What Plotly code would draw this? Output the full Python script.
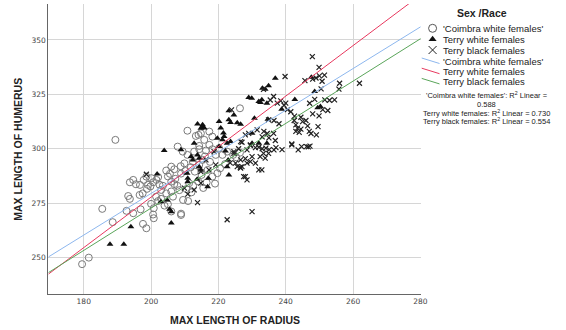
import plotly.graph_objects as go

# ---------------- data ----------------
coimbra_radius = [179.5, 181.5, 185.5, 188.6, 189.4, 192.7, 193.2, 193.7, 193.7, 194.7, 195.5, 194.7, 196.6, 196.9,
                  197.8, 197.6, 198.6, 198.8, 199.8, 200.0, 200.6, 200.8, 200.8, 201.6, 202.1, 202.1, 203.0, 204.0,
                  204.5, 205.0, 206.0, 206.0, 206.0, 206.0, 206.9, 206.9, 207.9, 208.4, 208.9, 208.9, 209.9, 210.2,
                  210.8, 210.8, 211.3, 211.8, 212.8, 213.3, 214.1, 209.4, 212.4, 215.3, 214.3, 205.6, 207.2, 208.8,
                  196.7, 200.1, 201.5, 203.0, 204.5, 206.5, 207.8, 200.6, 208.9, 210.5, 212.5, 214.0, 215.5, 214.8,
                  217.3, 215.8, 218.2, 214.3, 217.3, 216.3, 218.2, 220.2, 219.2, 221.2, 222.6, 224.4, 225.3, 226.4,
                  226.4, 214.3, 216.8, 218.2, 219.7, 215.0, 213.0, 216.5, 211.0, 203.5, 205.0, 197.5, 202.5, 209.5,
                  212.0, 217.5, 219.0, 222.0, 220.5, 216.0, 199.1, 198.6]
coimbra_humerus = [247.0, 250.0, 272.4, 266.3, 304.1, 271.5, 278.3, 277.0, 284.6, 285.7, 283.7, 270.4, 278.8, 272.2,
                   285.7, 265.5, 263.5, 281.6, 282.7, 274.7, 284.6, 268.1, 272.7, 285.7, 287.0, 276.0, 281.1, 273.9,
                   290.0, 287.3, 291.8, 284.9, 280.4, 271.2, 290.6, 283.8, 301.0, 281.0, 288.6, 269.6, 293.3, 289.8,
                   308.3, 297.2, 284.2, 291.5, 298.7, 305.9, 306.4, 298.7, 294.1, 294.9, 299.8, 288.5, 286.2, 292.0,
                   283.4, 286.5, 278.0, 277.0, 279.5, 278.0, 283.0, 269.8, 270.2, 281.5, 283.0, 285.0, 282.0, 307.1,
                   307.9, 304.1, 305.6, 301.3, 301.8, 299.2, 299.8, 300.3, 297.2, 297.2, 298.7, 297.2, 296.1, 298.2,
                   318.6, 292.6, 290.3, 287.2, 288.8, 288.0, 289.5, 284.5, 276.0, 283.0, 274.5, 279.5, 283.5, 276.5,
                   280.0, 294.0, 284.0, 293.0, 291.0, 296.5, 283.4, 287.2]

white_radius = [187.8, 191.9, 194.0, 201.8, 203.9, 202.9, 204.8, 205.5, 206.0, 206.0, 208.9, 210.7, 210.9, 210.9,
                211.9, 212.8, 213.8, 215.3, 214.8, 213.8, 214.3, 212.4, 214.3, 214.8, 215.3, 215.8, 216.8, 219.7,
                221.2, 221.7, 223.6, 220.2, 220.2, 220.7, 221.5, 222.6, 222.1, 222.9, 222.6, 223.1, 223.1, 224.6,
                223.1, 223.6, 225.6, 226.6, 229.0, 229.9, 232.0, 232.5, 232.9, 234.4, 233.1, 233.9, 234.9, 236.9,
                238.8, 230.0, 230.7, 234.7, 234.4, 230.0, 232.0, 242.7, 247.6, 248.6, 250.3, 249.5, 213.7, 217.0]
white_humerus = [256.2, 256.2, 264.2, 288.4, 299.2, 275.7, 276.5, 272.2, 271.1, 265.9, 299.5, 288.8, 286.5, 284.9,
                 296.4, 302.5, 311.4, 311.0, 309.4, 297.2, 295.7, 294.9, 291.8, 290.3, 310.2, 309.5, 282.6, 304.8,
                 304.1, 305.6, 303.3, 301.0, 312.5, 309.5, 307.2, 302.5, 299.0, 294.9, 291.8, 288.0, 317.5, 315.5,
                 313.3, 312.1, 311.9, 311.3, 323.5, 323.2, 321.7, 321.3, 322.5, 320.9, 327.8, 327.3, 328.9, 332.4,
                 318.2, 307.1, 314.0, 313.6, 302.5, 302.5, 302.5, 322.6, 332.8, 326.3, 319.4, 318.8, 286.0, 286.5]

black_radius = [198.6, 209.9, 212.8, 213.8, 210.9, 214.8, 216.3, 218.7, 219.2, 217.2, 214.8, 222.6, 230.0, 223.9,
                224.6, 226.6, 225.1, 226.5, 227.0, 232.9, 228.0, 228.5, 229.5, 226.6, 232.0, 234.1, 235.1, 237.1,
                238.9, 230.0, 228.5, 234.9, 241.8, 243.7, 246.7, 247.2, 224.6, 225.6, 226.6, 228.5, 229.5, 231.0,
                232.4, 233.4, 233.9, 232.0, 227.5, 229.0, 228.0, 236.4, 236.9, 231.5, 233.5, 234.5, 235.0, 233.0,
                229.5, 227.0, 231.0, 233.4, 236.4, 235.4, 237.5, 238.5, 240.0, 241.5, 240.5, 234.9, 236.5, 238.0,
                242.5, 243.0, 243.5, 243.0, 244.0, 244.5, 245.0, 246.0, 246.5, 247.0, 247.5, 242.6, 244.5, 249.6,
                249.1, 241.8, 244.7, 246.2, 239.8, 245.7, 247.9, 248.0, 249.0, 249.9, 250.0, 250.8, 251.5, 256.0,
                261.9, 255.8, 250.5, 248.6, 247.1, 251.6, 253.0, 254.5, 252.5, 251.0, 248.0, 249.9, 226.0, 228.0,
                223.5, 233.0, 236.5, 239.5]
black_humerus = [288.3, 281.9, 281.1, 275.3, 279.2, 289.5, 294.9, 298.7, 292.6, 290.3, 284.2, 267.4, 271.1, 317.9,
                 298.7, 294.9, 293.4, 291.5, 291.8, 290.3, 287.2, 285.7, 301.8, 303.3, 300.7, 300.3, 299.6, 300.5,
                 299.6, 296.4, 299.5, 297.9, 301.8, 299.5, 300.9, 301.2, 297.9, 291.8, 291.1, 293.4, 294.1, 293.4,
                 296.4, 297.9, 295.7, 290.3, 287.2, 307.1, 306.4, 307.1, 303.8, 308.7, 308.0, 307.0, 305.0, 305.5,
                 301.5, 303.0, 300.5, 327.3, 324.0, 322.4, 321.0, 322.0, 321.0, 317.0, 318.0, 313.3, 313.0, 311.5,
                 313.0, 311.0, 309.5, 308.0, 307.5, 309.0, 312.5, 313.0, 310.5, 308.0, 307.0, 315.0, 314.5, 310.2,
                 306.4, 302.2, 301.0, 301.0, 333.2, 331.3, 342.3, 332.0, 332.5, 337.4, 333.5, 331.0, 333.8, 330.1,
                 330.1, 327.4, 327.5, 322.7, 320.9, 322.5, 322.3, 322.5, 317.6, 318.0, 316.0, 315.1, 300.0, 295.5,
                 293.5, 300.0, 299.5, 320.0]

# linear fits: humerus = a + b * (radius - 170)
group_names = ["'Coimbra white females'", "Terry white females", "Terry black females"]
fit_at_170 = [250.8, 243.0, 243.6]
fit_slope = [0.956, 1.16, 0.972]
r_squared = ["0.588", "0.730", "0.554"]

x_ticks = [180, 200, 220, 240, 260, 280]
y_ticks = [250, 275, 300, 325, 350]
x_title = "MAX LENGTH OF RADIUS"
y_title = "MAX LENGTH OF HUMERUS"
legend_title = "Sex /Race"

# ---------------- layout constants ----------------
W, H = 566, 330
PL, PR, PT, PB = 49, 426, 4, 294          # plot area in pixels
X_RANGE = [169.5, 280.1]
Y_RANGE = [233.3, 366.5]
LINE_COLORS = ["#8db7ee", "#e8395f", "#5aa55a"]
GRID = "#d6d6d6"
TXT = "#222222"

fig = go.Figure()

fig.add_trace(go.Scatter(x=coimbra_radius, y=coimbra_humerus, mode="markers", showlegend=False,
                         marker=dict(symbol="circle-open", size=7, color="#7a7a7a", line=dict(width=1, color="#7a7a7a"))))
fig.add_trace(go.Scatter(x=white_radius, y=white_humerus, mode="markers", showlegend=False,
                         marker=dict(symbol="triangle-up", size=6, color="#111111")))
fig.add_trace(go.Scatter(x=black_radius, y=black_humerus, mode="markers", showlegend=False,
                         marker=dict(symbol="x-thin-open", size=5, color="#222222", line=dict(width=1.2, color="#222222"))))

for a, b, col in zip(fit_at_170, fit_slope, LINE_COLORS):
    xs = [X_RANGE[0], X_RANGE[1]]
    ys = [a + b * (v - 170) for v in xs]
    fig.add_trace(go.Scatter(x=xs, y=ys, mode="lines", showlegend=False, line=dict(color=col, width=1)))

# ---------------- custom legend on a pixel overlay axis ----------------
leg_x = 438
fig.add_trace(go.Scatter(x=[leg_x], y=[28.3], xaxis="x2", yaxis="y2", mode="markers", showlegend=False,
                         marker=dict(symbol="circle-open", size=8, color="#555555", line=dict(width=1, color="#555555"))))
fig.add_trace(go.Scatter(x=[leg_x], y=[39.3], xaxis="x2", yaxis="y2", mode="markers", showlegend=False,
                         marker=dict(symbol="triangle-up", size=7, color="#111111")))
fig.add_trace(go.Scatter(x=[leg_x], y=[50], xaxis="x2", yaxis="y2", mode="markers", showlegend=False,
                         marker=dict(symbol="x-thin-open", size=8, color="#222222", line=dict(width=1, color="#222222"))))
for i, col in enumerate(LINE_COLORS):
    y0 = 58 + i * 10.2
    fig.add_trace(go.Scatter(x=[427, 445], y=[y0, y0 + 5.5], xaxis="x2", yaxis="y2", mode="lines",
                             showlegend=False, line=dict(color=col, width=1)))

annotations = []
annotations.append(dict(x=488, y=13, xref="x2", yref="y2", text="<b>%s</b>" % legend_title, showarrow=False,
                        xanchor="center", yanchor="middle", font=dict(family="Liberation Sans", size=10.5, color=TXT)))
legend_rows = group_names + group_names
for i, name in enumerate(legend_rows):
    yy = [28.3, 39.3, 50, 61, 71, 81][i]
    annotations.append(dict(x=446.5, y=yy, xref="x2", yref="y2", text=name, showarrow=False,
                            xanchor="left", yanchor="middle", font=dict(family="Liberation Sans", size=9.5, color=TXT)))
r2_lines = ["%s: R<sup>2</sup> Linear =" % group_names[0], r_squared[0],
            "%s: R<sup>2</sup> Linear = %s" % (group_names[1], r_squared[1]),
            "%s: R<sup>2</sup> Linear = %s" % (group_names[2], r_squared[2])]
for txt, yy in zip(r2_lines, [95, 104, 113.3, 121]):
    annotations.append(dict(x=493, y=yy, xref="x2", yref="y2", text=txt, showarrow=False,
                            xanchor="center", yanchor="middle", font=dict(family="Liberation Sans", size=7.5, color=TXT)))
# axis titles
annotations.append(dict(x=(PL + PR) / 2, y=320, xref="x2", yref="y2", text="<b>%s</b>" % x_title, showarrow=False,
                        xanchor="center", yanchor="middle", font=dict(family="Liberation Sans", size=10.5, color=TXT)))
annotations.append(dict(x=18, y=(PT + PB) / 2, xref="x2", yref="y2", text="<b>%s</b>" % y_title, showarrow=False,
                        textangle=-90, xanchor="center", yanchor="middle",
                        font=dict(family="Liberation Sans", size=10.5, color=TXT)))

tickfont = dict(family="DejaVu Sans", size=7.5, color="#444444")
fig.update_layout(
    width=W, height=H,
    margin=dict(l=0, r=0, t=0, b=0),
    paper_bgcolor="white", plot_bgcolor="rgba(0,0,0,0)",
    showlegend=False,
    xaxis=dict(domain=[PL / W, PR / W], range=X_RANGE, tickvals=x_ticks, showgrid=True, gridcolor=GRID,
               gridwidth=1, zeroline=False, showline=True, linecolor="#666666", linewidth=1, ticks="",
               tickfont=tickfont, anchor="y", fixedrange=True),
    yaxis=dict(domain=[1 - PB / H, 1 - PT / H], range=Y_RANGE, tickvals=y_ticks, showgrid=True, gridcolor=GRID,
               gridwidth=1, zeroline=False, showline=True, linecolor="#666666", linewidth=1, ticks="",
               tickfont=tickfont, anchor="x", fixedrange=True),
    xaxis2=dict(domain=[0, 1], range=[0, W], visible=False, anchor="y2", fixedrange=True),
    yaxis2=dict(domain=[0, 1], range=[H, 0], visible=False, anchor="x2", fixedrange=True),
    annotations=annotations,
)

fig.write_html("out.html")
